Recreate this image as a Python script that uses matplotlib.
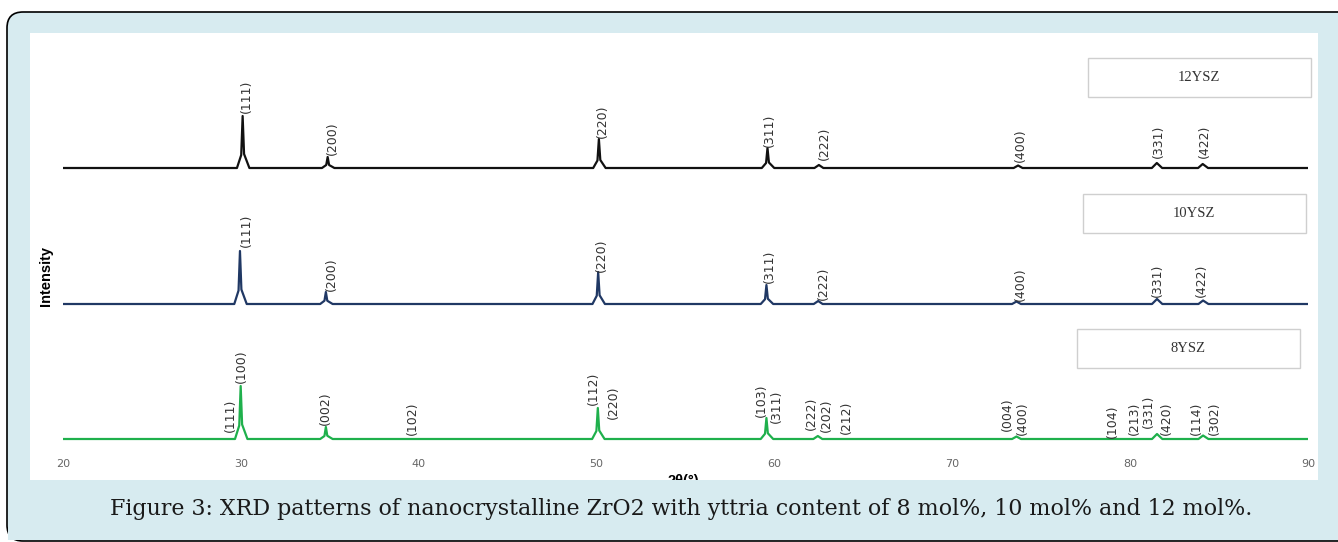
import matplotlib
matplotlib.use('Agg')
import matplotlib.pyplot as plt
from matplotlib.patches import FancyBboxPatch, Rectangle
from matplotlib.transforms import IdentityTransform

# ---- data (2theta in degrees, intensity in a.u.) ----
two_theta_12 = [20, 29.78, 30.02, 30.10, 30.18, 30.48, 34.56, 34.80, 34.88, 34.96, 35.26,
                49.81, 50.05, 50.13, 50.21, 50.51, 59.29, 59.53, 59.61, 59.69, 59.99,
                62.25, 62.50, 62.75, 73.45, 73.70, 73.95, 81.22, 81.50, 81.80,
                83.82, 84.08, 84.38, 90]
intensity_12 = [0, 0, 260, 1040, 280, 0, 0, 60, 220, 60, 0,
                0, 150, 580, 160, 0, 0, 100, 400, 110, 0,
                0, 60, 0, 0, 50, 0, 0, 100, 0,
                0, 80, 0, 0]

two_theta_10 = [20, 29.63, 29.87, 29.95, 30.03, 30.33, 34.46, 34.70, 34.78, 34.86, 35.16,
                49.77, 50.01, 50.09, 50.17, 50.47, 59.23, 59.47, 59.55, 59.63, 59.93,
                62.21, 62.46, 62.71, 73.36, 73.61, 73.86, 81.23, 81.51, 81.81,
                83.84, 84.10, 84.40, 90]
intensity_10 = [0, 0, 270, 1060, 290, 0, 0, 65, 240, 65, 0,
                0, 165, 640, 175, 0, 0, 95, 380, 105, 0,
                0, 60, 0, 0, 50, 0, 0, 100, 0,
                0, 70, 0, 0]

two_theta_8 = [20, 29.67, 29.91, 29.99, 30.07, 30.37, 34.46, 34.70, 34.78, 34.86, 35.16,
               49.75, 49.99, 50.07, 50.15, 50.45, 59.23, 59.47, 59.55, 59.63, 59.93,
               62.19, 62.44, 62.69, 73.36, 73.61, 73.86, 81.23, 81.51, 81.81,
               83.84, 84.10, 84.40, 90]
intensity_8 = [0, 0, 270, 1060, 290, 0, 0, 60, 240, 65, 0,
               0, 160, 620, 170, 0, 0, 105, 420, 115, 0,
               0, 60, 0, 0, 50, 0, 0, 100, 0,
               0, 70, 0, 0]

# reflection labels
hkl_12 = ['(111)', '(200)', '(220)', '(311)', '(222)', '(400)', '(331)', '(422)']
label_x_12 = [30.29, 35.12, 50.35, 59.74, 62.83, 73.83, 81.61, 84.20]
hkl_10 = ['(111)', '(200)', '(220)', '(311)', '(222)', '(400)', '(331)', '(422)']
label_x_10 = [30.33, 35.10, 50.28, 59.74, 62.74, 73.83, 81.51, 84.00]
hkl_8 = ['(111)', '(100)', '(002)', '(102)', '(112)', '(220)', '(103)', '(311)', '(222)',
         '(202)', '(212)', '(004)', '(400)', '(104)', '(213)', '(331)', '(420)', '(114)', '(302)']
label_x_8 = [29.39, 30.04, 34.77, 39.62, 49.80, 50.92, 59.27, 60.12, 62.09,
             62.93, 64.05, 73.12, 73.96, 79.02, 80.26, 81.05, 82.06, 83.74, 84.76]

samples = ['12YSZ', '10YSZ', '8YSZ']
x_ticks = [20, 30, 40, 50, 60, 70, 80, 90]

# ---- layout (label base heights above each baseline, a.u.) ----
label_lift_12 = [1100, 260, 600, 420, 160, 120, 200, 200]
label_lift_10 = [1140, 260, 650, 420, 80, 60, 140, 140]
label_lift_8 = [140, 1120, 280, 80, 680, 400, 440, 320, 180, 140, 100, 160, 80, 20, 80, 220, 80, 80, 80]
offsets = [5420, 2700, 0]
colors = ['#111111', '#203864', '#1fb04c']
box_left = [77.62, 77.34, 77.0]

W, H = 1338, 542
fig = plt.figure(figsize=(W / 100, H / 100), dpi=100)
fig.patch.set_facecolor('white')

# light blue frame with rounded corners, white plot panel
frame = FancyBboxPatch((7, 1), W + 20, H - 13, boxstyle='round,pad=0,rounding_size=16',
                       transform=IdentityTransform(), facecolor='#d7ebf0',
                       edgecolor='black', linewidth=1.2, zorder=-3)
fig.patches.append(frame)
panel = Rectangle((30, H - 480), 1288, 447, transform=IdentityTransform(),
                  facecolor='white', edgecolor='none', zorder=-2)
fig.patches.append(panel)

ax = fig.add_axes([63 / W, (H - 448) / H, (1308 - 63) / W, 388 / H])
ax.set_facecolor('none')

traces = [(two_theta_12, intensity_12), (two_theta_10, intensity_10), (two_theta_8, intensity_8)]
labels = [(hkl_12, label_x_12, label_lift_12), (hkl_10, label_x_10, label_lift_10),
          (hkl_8, label_x_8, label_lift_8)]

for i in range(3):
    tt, inten = traces[i]
    off = offsets[i]
    ax.plot(tt, [v + off for v in inten], color=colors[i], lw=1.6, solid_joinstyle='round')
    names, xs, lifts = labels[i]
    for name, x, lift in zip(names, xs, lifts):
        ax.text(x, off + lift, name, rotation=90, ha='center', va='bottom',
                fontsize=9, color='#333333', family='DejaVu Sans')
    # sample name box
    ax.add_patch(Rectangle((box_left[i], off + 1420), 12.55, 780, facecolor='white',
                           edgecolor='#cfcfcf', lw=1.0, clip_on=False))
    ax.text(box_left[i] + 6.27, off + 1810, samples[i], ha='center', va='center',
            fontsize=10.5, color='#333333', family='Liberation Serif')

ax.set_xlim(20, 90)
ax.set_ylim(-180, 7580)
ax.set_xticks(x_ticks)
ax.set_xticklabels([str(t) for t in x_ticks], fontsize=8, color='#666666')
ax.set_yticks([])
ax.tick_params(axis='x', length=0, pad=8)
for s in ax.spines.values():
    s.set_visible(False)

fig.text(46 / W, (H - 276) / H, 'Intensity', rotation=90, ha='center', va='center',
         fontsize=10.5, fontweight='bold', family='Liberation Sans')
fig.text(683 / W, (H - 474) / H, '2θ(°)', ha='center', va='top',
         fontsize=10.5, fontweight='bold', family='Liberation Sans', zorder=4)
# blue band under the panel hides the lower part of the axis title
fig.patches.append(Rectangle((8, 2), W, H - 480 - 2, transform=IdentityTransform(),
                             facecolor='#d7ebf0', edgecolor='none', zorder=5))

fig.text(681 / W, (H - 515) / H,
         'Figure 3: XRD patterns of nanocrystalline ZrO2 with yttria content of 8 mol%, 10 mol% and 12 mol%.',
         ha='center', va='baseline', fontsize=15.9, family='DejaVu Serif', color='#1a1a1a', zorder=6)

fig.savefig('out.png', dpi=100)
